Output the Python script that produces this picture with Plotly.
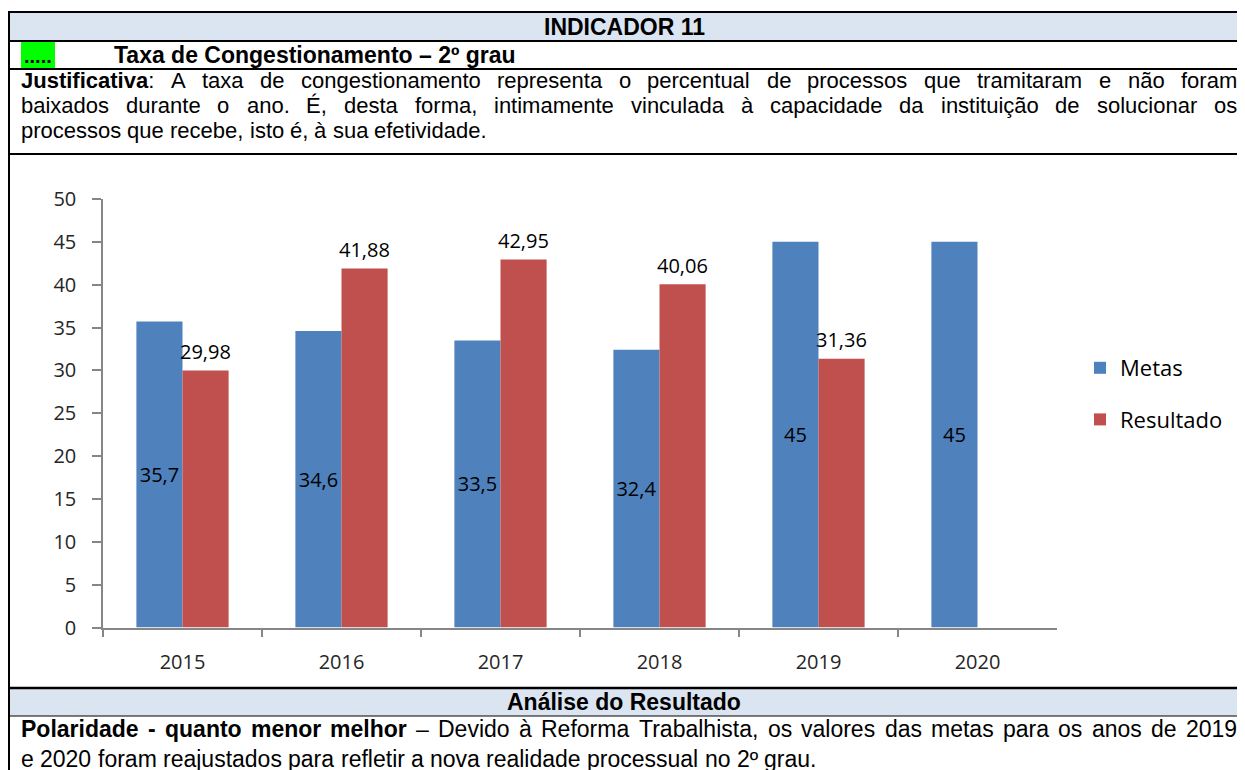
import plotly.graph_objects as go

# ---------------- data ----------------
years = ["2015", "2016", "2017", "2018", "2019", "2020"]
metas = [35.7, 34.6, 33.5, 32.4, 45, 45]
resultado = [29.98, 41.88, 42.95, 40.06, 31.36, None]
metas_labels = ["35,7", "34,6", "33,5", "32,4", "45", "45"]
resultado_labels = ["29,98", "41,88", "42,95", "40,06", "31,36", ""]
y_ticks = [0, 5, 10, 15, 20, 25, 30, 35, 40, 45, 50]

header_text = "INDICADOR 11"
title_text = "Taxa de Congestionamento \u2013 2\u00ba grau"
just_lines = [
    [("Justificativa", True), (": A taxa de congestionamento representa o percentual de processos que tramitaram e n\u00e3o foram", False)],
    [("baixados durante o ano. \u00c9, desta forma, intimamente vinculada \u00e0 capacidade da institui\u00e7\u00e3o de solucionar os", False)],
    [("processos que recebe, isto \u00e9, \u00e0 sua efetividade.", False)],
]
analysis_header = "An\u00e1lise do Resultado"
analysis_lines = [
    [("Polaridade - quanto menor melhor", True), (" \u2013 Devido \u00e0 Reforma Trabalhista, os valores das metas para os anos de 2019", False)],
    [("e 2020 foram reajustados para refletir a nova realidade processual no 2\u00ba grau.", False)],
]

W, H = 1245, 770
OFF = 8  # the page puts the figure 8 px from the window's top-left corner
BLUE = "#4f81bd"
RED = "#c0504d"
SHADE = "#dbe5f1"
CHART_FONT = "Open Sans"
DOC_FONT = "Liberation Sans, Arial"
JUST_SIZE = 22
ANAL_SIZE = 23
HEAD_SIZE = 23
TEXT_LEFT, TEXT_RIGHT = 20, 1236

# Arial metrics (1/1000 em) used to lay out justified text word by word
_reg = {' ': 278, ',': 278, '.': 278, ':': 278, '-': 333, '\u2013': 556, '\u00ba': 365}
_bold = {' ': 278, ',': 278, '.': 278, ':': 333, '-': 333, '\u2013': 556, '\u00ba': 365}
for d in "0123456789":
    _reg[d] = 556
    _bold[d] = 556
for c, v in zip("abcdefghijklmnopqrstuvwxyz",
                [556, 556, 500, 556, 556, 278, 556, 556, 222, 222, 500, 222, 833, 556, 556, 556, 556, 333, 500, 278, 556, 500, 722, 500, 500, 500]):
    _reg[c] = v
for c, v in zip("abcdefghijklmnopqrstuvwxyz",
                [556, 611, 556, 611, 556, 333, 611, 611, 278, 278, 556, 278, 889, 611, 611, 611, 611, 389, 556, 333, 611, 556, 778, 556, 556, 500]):
    _bold[c] = v
for c, v in zip("ABCDEFGHIJKLMNOPQRSTUVWXYZ",
                [667, 667, 722, 722, 667, 611, 778, 722, 278, 500, 667, 556, 833, 722, 778, 667, 778, 722, 667, 611, 722, 667, 944, 667, 667, 611]):
    _reg[c] = v
for c, v in zip("ABCDEFGHIJKLMNOPQRSTUVWXYZ",
                [722, 722, 722, 722, 667, 611, 778, 722, 278, 556, 722, 611, 833, 722, 778, 667, 778, 722, 667, 611, 722, 667, 944, 667, 667, 611]):
    _bold[c] = v
for acc, base in [("\u00e1", "a"), ("\u00e0", "a"), ("\u00e3", "a"), ("\u00e9", "e"), ("\u00ea", "e"),
                  ("\u00f3", "o"), ("\u00f5", "o"), ("\u00e7", "c"), ("\u00fa", "u"), ("\u00c9", "E")]:
    _reg[acc] = _reg[base]
    _bold[acc] = _bold[base]
_reg["\u00ed"] = 278
_bold["\u00ed"] = 278


def px(x):
    return (x - OFF) / W


def py(y):
    return 1 - (y - OFF) / H


def split_words(pieces):
    words, cur = [], []
    for text, bold in pieces:
        parts = text.split(" ")
        for i, p in enumerate(parts):
            if i > 0 and cur:
                words.append(cur)
                cur = []
            if p:
                cur.append((p, bold))
    if cur:
        words.append(cur)
    return words


def word_width(word, size):
    tot = 0
    for t, b in word:
        tab = _bold if b else _reg
        tot += sum(tab.get(ch, 556) for ch in t)
    return tot * size / 1000.0


def word_html(word):
    return "".join("<b>%s</b>" % t if b else t for t, b in word)


annotations = []


def place_line(pieces, x0, x1, yc, size, justify):
    words = split_words(pieces)
    widths = [word_width(w, size) for w in words]
    if justify and len(words) > 1:
        gap = (x1 - x0 - sum(widths)) / (len(words) - 1)
    else:
        gap = 278 * size / 1000.0
    x = x0
    for w, wd in zip(words, widths):
        annotations.append(dict(
            x=px(x), y=py(yc), xref="paper", yref="paper", xanchor="left", yanchor="middle",
            text=word_html(w), showarrow=False, borderpad=0,
            font=dict(family=DOC_FONT, size=size, color="#000000")))
        x += wd + gap


fig = go.Figure()
fig.add_trace(go.Bar(
    x=years, y=metas, name="Metas", marker=dict(color=BLUE, line=dict(width=0)),
    text=metas_labels, textposition="inside", insidetextanchor="middle", textangle=0,
    textfont=dict(family=CHART_FONT, size=20, color="#000000"),
    legendgroup="a", hoverinfo="skip"))
fig.add_trace(go.Bar(
    x=years, y=resultado, name="Resultado", marker=dict(color=RED, line=dict(width=0)),
    legendgroup="b", hoverinfo="skip"))

# value labels above Resultado bars (category index, shifted onto the right-hand bar)
for i, (v, lab) in enumerate(zip(resultado, resultado_labels)):
    if v is None:
        continue
    annotations.append(dict(
        x=i, y=v, xref="x", yref="y", xshift=23, yshift=19, yanchor="middle", xanchor="center",
        text=lab, showarrow=False, font=dict(family=CHART_FONT, size=20, color="#000000")))

# ---------------- document frame ----------------
RIGHT = 1246
shapes = []
shapes.append(dict(type="rect", xref="paper", yref="paper", x0=px(8), x1=px(RIGHT), y0=py(41), y1=py(12),
                   fillcolor=SHADE, line=dict(width=0), layer="below"))
shapes.append(dict(type="rect", xref="paper", yref="paper", x0=px(8), x1=px(RIGHT), y0=py(716), y1=py(688),
                   fillcolor=SHADE, line=dict(width=0), layer="below"))
shapes.append(dict(type="rect", xref="paper", yref="paper", x0=px(21), x1=px(55), y0=py(68), y1=py(42),
                   fillcolor="#00ff00", line=dict(width=0), layer="below"))
for yl, lw in [(12, 2), (41, 2), (69, 2), (154, 2), (688, 2.5), (716, 1)]:
    shapes.append(dict(type="line", xref="paper", yref="paper", x0=px(7), x1=px(RIGHT), y0=py(yl), y1=py(yl),
                       line=dict(color="#000000", width=lw)))
shapes.append(dict(type="line", xref="paper", yref="paper", x0=px(OFF), x1=px(OFF), y0=py(11), y1=py(780),
                   line=dict(color="#000000", width=4)))

annotations.append(dict(x=px(624), y=py(27), xref="paper", yref="paper", text="<b>%s</b>" % header_text,
                        showarrow=False, xanchor="center", yanchor="middle", borderpad=0,
                        font=dict(family=DOC_FONT, size=HEAD_SIZE, color="#000000")))
annotations.append(dict(x=px(38), y=py(56), xref="paper", yref="paper", text="<b>.....</b>",
                        showarrow=False, xanchor="center", yanchor="middle", borderpad=0,
                        font=dict(family=DOC_FONT, size=20, color="#000000")))
annotations.append(dict(x=px(113), y=py(55), xref="paper", yref="paper", text="<b>%s</b>" % title_text,
                        showarrow=False, xanchor="left", yanchor="middle", borderpad=0,
                        font=dict(family=DOC_FONT, size=HEAD_SIZE, color="#000000")))
annotations.append(dict(x=px(624), y=py(702), xref="paper", yref="paper", text="<b>%s</b>" % analysis_header,
                        showarrow=False, xanchor="center", yanchor="middle", borderpad=0,
                        font=dict(family=DOC_FONT, size=HEAD_SIZE, color="#000000")))

for i, (line, yc) in enumerate(zip(just_lines, [81.0, 105.6, 130.2])):
    place_line(line, TEXT_LEFT, TEXT_RIGHT, yc, JUST_SIZE, justify=(i < len(just_lines) - 1))
for i, (line, yc) in enumerate(zip(analysis_lines, [729, 759])):
    place_line(line, TEXT_LEFT, TEXT_RIGHT, yc, ANAL_SIZE, justify=(i < len(analysis_lines) - 1))

axis_common = dict(showline=True, linecolor="#868686", linewidth=1.5, ticks="outside", tickcolor="#868686",
                   tickwidth=1.5, showgrid=False, zeroline=False, automargin=False,
                   tickfont=dict(family=CHART_FONT, size=20, color="#262626"))

fig.update_layout(
    template="none",
    width=W, height=H, margin=dict(l=0, r=0, t=0, b=0, pad=0), autosize=False,
    paper_bgcolor="#ffffff", plot_bgcolor="#ffffff",
    barmode="group", bargap=0.42, bargroupgap=0,
    showlegend=True,
    legend=dict(x=px(1080), y=py(394), xanchor="left", yanchor="middle",
                traceorder="grouped", tracegroupgap=20,
                font=dict(family=CHART_FONT, size=22, color="#000000"),
                bgcolor="rgba(0,0,0,0)", borderwidth=0),
    uniformtext=dict(minsize=20, mode="show"),
    xaxis=dict(domain=[px(103), px(1057)], type="category", range=[-0.5, 5.5], tickson="boundaries",
               ticklen=8, ticklabelstandoff=16, **axis_common),
    yaxis=dict(domain=[py(627.5), py(199)], range=[0, 50], tickvals=y_ticks, ticklen=9,
               ticklabelstandoff=12, **axis_common),
    shapes=shapes, annotations=annotations,
)

fig.write_html("out.html")
